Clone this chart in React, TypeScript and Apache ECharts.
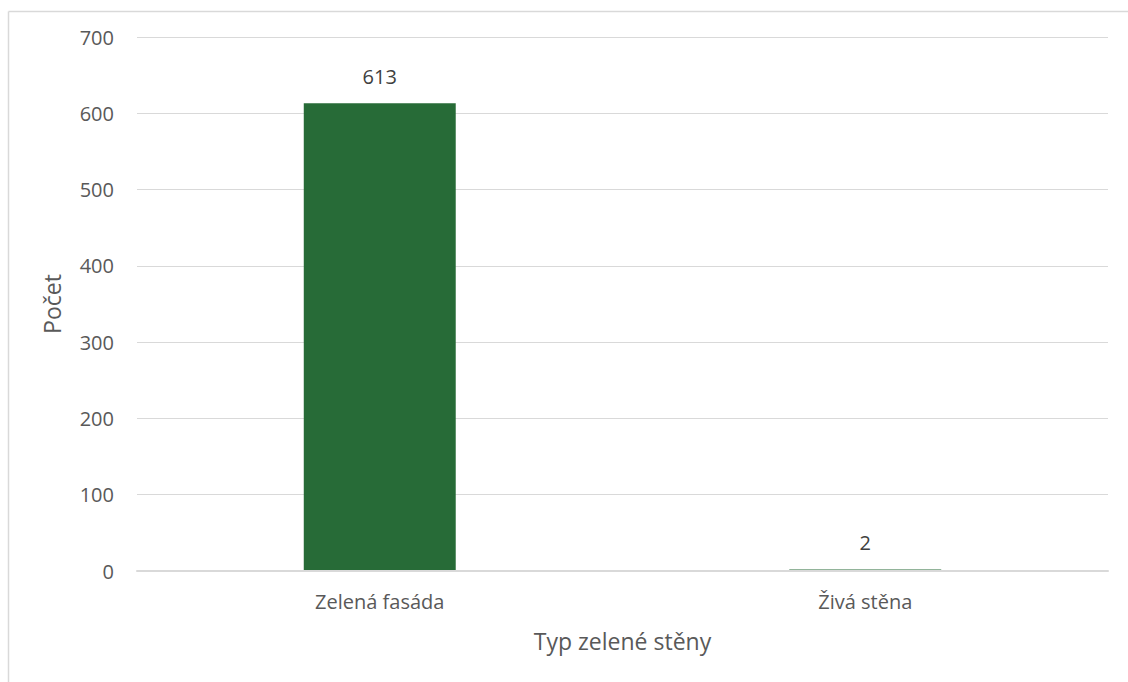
import React, { useEffect, useRef } from "react";
import * as echarts from "echarts";

const categories = ["Zelená fasáda", "Živá stěna"];
const values = [613, 2];
const yTicks = { min: 0, max: 700, interval: 100 };
const xTitle = "Typ zelené stěny";
const yTitle = "Počet";

const FONT = "'Segoe UI', 'Open Sans', 'Noto Sans', sans-serif";
const TXT = "#595959";

export default function App() {
  const ref = useRef<HTMLDivElement>(null);
  useEffect(() => {
    if (!ref.current) return;
    const chart = echarts.init(ref.current, undefined, { renderer: "svg" });
    chart.setOption({
      animation: false,
      backgroundColor: "#ffffff",
      textStyle: { fontFamily: FONT },
      graphic: [
        { type: "line", shape: { x1: 8.5, y1: 11.5, x2: 1128, y2: 11.5 }, style: { stroke: "#d9d9d9", lineWidth: 1.5 } },
        { type: "line", shape: { x1: 8.5, y1: 11.5, x2: 8.5, y2: 682 }, style: { stroke: "#d9d9d9", lineWidth: 1.5 } },
      ],
      grid: { left: 137, right: 20, top: 37, bottom: 111, containLabel: false },
      xAxis: {
        type: "category",
        data: categories,
        name: xTitle,
        nameLocation: "middle",
        nameGap: 58,
        z: 5,
        nameTextStyle: { fontSize: 23, color: TXT, fontFamily: FONT },
        axisLine: { lineStyle: { color: "#d9d9d9", width: 2 } },
        axisTick: { show: false },
        axisLabel: { fontSize: 20, color: TXT, margin: 20, fontFamily: FONT },
      },
      yAxis: {
        type: "value",
        min: yTicks.min,
        max: yTicks.max,
        interval: yTicks.interval,
        name: yTitle,
        nameLocation: "middle",
        nameGap: 74,
        nameTextStyle: { fontSize: 23, color: TXT, fontFamily: FONT },
        axisLine: { show: false },
        axisTick: { show: false },
        axisLabel: { fontSize: 20, color: TXT, margin: 23, fontFamily: FONT },
        splitLine: { lineStyle: { color: "#d9d9d9", width: 1 } },
      },
      series: [
        {
          type: "bar",
          data: values,
          barWidth: "31.3%",
          itemStyle: { color: "#276B37" },
          label: {
            show: true,
            position: "top",
            distance: 17,
            fontSize: 20,
            color: "#404040",
            fontFamily: FONT,
          },
        },
      ],
    });
    return () => chart.dispose();
  }, []);
  return <div ref={ref} style={{ width: 1128, height: 682, position: "absolute", left: 0, top: 0 }} />;
}
